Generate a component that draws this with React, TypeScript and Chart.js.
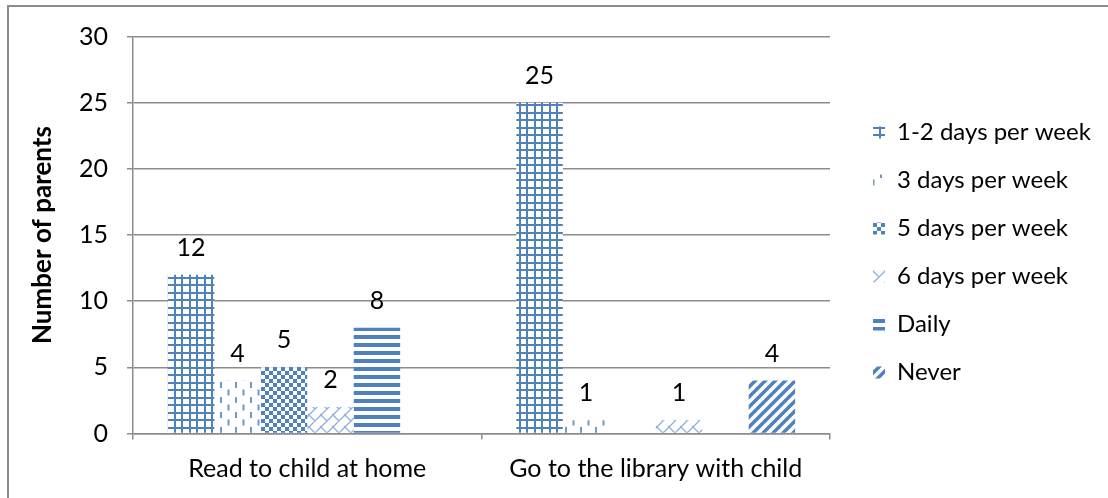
import { useEffect, useRef } from "react";
import { Chart, registerables } from "chart.js";

Chart.register(...registerables);

const categories = ["Read to child at home", "Go to the library with child"];
const seriesNames = [
  "1-2 days per week",
  "3 days per week",
  "5 days per week",
  "6 days per week",
  "Daily",
  "Never",
];
const oneToTwoDays = [12, 25];
const threeDays = [4, 1];
const fiveDays = [5, null];
const sixDays = [2, 1];
const daily = [8, null];
const never = [null, 4];
const yTicks = [0, 5, 10, 15, 20, 25, 30];

const BLUE = "#4F81BD";
const LIGHT_BLUE = "#7098CB";
const PALE_BLUE = "#8DB0DC";
const GRID = "#8c8c8c";
const FONT = "Lato";
const FONT_SIZE = 25;
const LEGEND_FONT_SIZE = 24;

const CANVAS_W = 1099;
const CANVAS_H = 491;
const PLOT_RIGHT = 821;
const LEGEND_GAP = 19;

function tile(w: number, h: number, draw: (c: CanvasRenderingContext2D) => void) {
  const cv = document.createElement("canvas");
  cv.width = w;
  cv.height = h;
  const c = cv.getContext("2d")!;
  c.fillStyle = "#ffffff";
  c.fillRect(0, 0, w, h);
  draw(c);
  return c.createPattern(cv, "repeat")!;
}

function makePatterns() {
  // small square grid
  const grid = tile(15, 15, (c) => {
    c.fillStyle = BLUE;
    c.fillRect(0, 0, 15, 2);
    c.fillRect(0, 7, 15, 2);
    c.fillRect(0, 0, 2, 15);
    c.fillRect(7, 0, 2, 15);
  });
  // staggered vertical dashes
  const dashes = tile(15, 15, (c) => {
    c.fillStyle = LIGHT_BLUE;
    c.fillRect(1, 0, 2, 6);
    c.fillRect(8.5, 7.5, 2, 6);
  });
  // checkerboard
  const checker = tile(8, 8, (c) => {
    c.fillStyle = BLUE;
    c.fillRect(0, 0, 4, 4);
    c.fillRect(4, 4, 4, 4);
  });
  // shingle lattice
  const shingle = tile(12, 12, (c) => {
    c.strokeStyle = PALE_BLUE;
    c.lineWidth = 1.3;
    c.beginPath();
    c.moveTo(-1, 13);
    c.lineTo(13, -1);
    c.moveTo(-1, 1);
    c.lineTo(1, -1);
    c.moveTo(11, 13);
    c.lineTo(13, 11);
    c.moveTo(-1, -1);
    c.lineTo(6, 6);
    c.moveTo(11, 11);
    c.lineTo(13, 13);
    c.stroke();
  });
  // horizontal stripes
  const stripes = tile(8, 8, (c) => {
    c.fillStyle = BLUE;
    c.fillRect(0, 0, 8, 4);
  });
  // wide diagonal stripes
  const diagonal = tile(10, 10, (c) => {
    c.strokeStyle = BLUE;
    c.lineWidth = 3.5;
    c.beginPath();
    c.moveTo(-5, 5);
    c.lineTo(5, -5);
    c.moveTo(0, 10);
    c.lineTo(10, 0);
    c.moveTo(5, 15);
    c.lineTo(15, 5);
    c.stroke();
  });
  return [grid, dashes, checker, shingle, stripes, diagonal];
}

const valueLabels = {
  id: "valueLabels",
  afterDatasetsDraw(chart: Chart) {
    const { ctx } = chart;
    ctx.save();
    ctx.font = `${FONT_SIZE}px ${FONT}`;
    ctx.fillStyle = "#000";
    ctx.textAlign = "center";
    ctx.textBaseline = "alphabetic";
    chart.data.datasets.forEach((ds, i) => {
      const meta = chart.getDatasetMeta(i);
      meta.data.forEach((bar: any, j: number) => {
        const v = ds.data[j] as number | null;
        if (v == null) return;
        ctx.fillText(String(v), bar.x, bar.y - 19);
      });
    });
    ctx.restore();
  },
};

// moves the legend a little away from the plot and centres it on the full height
const legendPlacement = {
  id: "legendPlacement",
  afterLayout(chart: any) {
    const lg = chart.legend;
    if (!lg) return;
    lg.left += LEGEND_GAP;
    lg.right += LEGEND_GAP;
    lg.top = 0;
    lg.bottom = CANVAS_H;
    lg.height = CANVAS_H;
  },
};

function buildChart(canvas: HTMLCanvasElement) {
  const patterns = makePatterns();
  const series = [oneToTwoDays, threeDays, fiveDays, sixDays, daily, never];

  const legendPad = 24;
  const boxW = 12;
  const mctx = canvas.getContext("2d")!;
  mctx.font = `${LEGEND_FONT_SIZE}px ${FONT}`;
  const textW = Math.max(...seriesNames.map((n) => mctx.measureText(n).width));
  const legendW = legendPad + boxW + LEGEND_FONT_SIZE / 2 + textW + 10;
  const padRight = CANVAS_W - PLOT_RIGHT - legendW;

  Chart.defaults.font.family = FONT;

  return new Chart(canvas, {
    type: "bar",
    data: {
      labels: categories,
      datasets: series.map((data, i) => ({
        label: seriesNames[i],
        data,
        backgroundColor: patterns[i],
        borderWidth: 0,
        categoryPercentage: 0.8,
        barPercentage: 1,
      })),
    },
    plugins: [valueLabels, legendPlacement],
    options: {
      responsive: false,
      animation: false,
      devicePixelRatio: 1,
      layout: { padding: { top: 29.5, left: 0, bottom: 0, right: padRight } },
      plugins: {
        tooltip: { enabled: false },
        legend: {
          position: "right",
          align: "center",
          maxWidth: 400,
          labels: {
            boxWidth: boxW,
            boxHeight: boxW,
            padding: legendPad,
            color: "#000",
            font: { size: LEGEND_FONT_SIZE },
          },
        },
      },
      scales: {
        x: {
          grid: {
            offset: true,
            drawOnChartArea: false,
            drawTicks: true,
            tickLength: 6,
            color: GRID,
            lineWidth: 1.5,
          },
          border: { color: GRID, width: 1.5 },
          ticks: { padding: 14, color: "#000", font: { size: FONT_SIZE } },
          afterFit: (s: any) => {
            s.height = 64.5;
          },
        },
        y: {
          min: yTicks[0],
          max: yTicks[yTicks.length - 1],
          ticks: {
            stepSize: yTicks[1] - yTicks[0],
            padding: 19,
            color: "#000",
            font: { size: FONT_SIZE },
          },
          grid: { color: GRID, lineWidth: 1.5, tickLength: 6, drawTicks: true },
          border: { color: GRID, width: 1.5 },
          title: {
            display: true,
            text: "Number of parents",
            color: "#000",
            font: { size: 26, weight: "bold" },
            padding: { top: 18, bottom: 0 },
          },
          afterFit: (s: any) => {
            s.width = 124;
            s.paddingTop = 0;
            s.paddingBottom = 0;
          },
        },
      },
    },
  } as any);
}

export default function App() {
  const ref = useRef<HTMLCanvasElement>(null);

  useEffect(() => {
    let chart: Chart | null = null;
    let cancelled = false;
    const canvas = ref.current!;
    const ready = document.fonts
      ? Promise.all([
          document.fonts.load(`${FONT_SIZE}px ${FONT}`),
          document.fonts.load(`${LEGEND_FONT_SIZE}px ${FONT}`),
          document.fonts.load(`bold 26px ${FONT}`),
        ]).catch(() => null)
      : Promise.resolve(null);
    ready.then(() => {
      if (!cancelled) chart = buildChart(canvas);
    });
    return () => {
      cancelled = true;
      if (chart) chart.destroy();
    };
  }, []);

  return (
    <div
      style={{
        position: "absolute",
        left: 7,
        top: 5,
        width: CANVAS_W + 2,
        height: CANVAS_H + 2,
        borderLeft: "2px solid #8c8c8c",
        borderTop: "2px solid #8c8c8c",
        boxSizing: "border-box",
        background: "#fff",
      }}
    >
      <canvas ref={ref} width={CANVAS_W} height={CANVAS_H} style={{ display: "block" }} />
    </div>
  );
}
